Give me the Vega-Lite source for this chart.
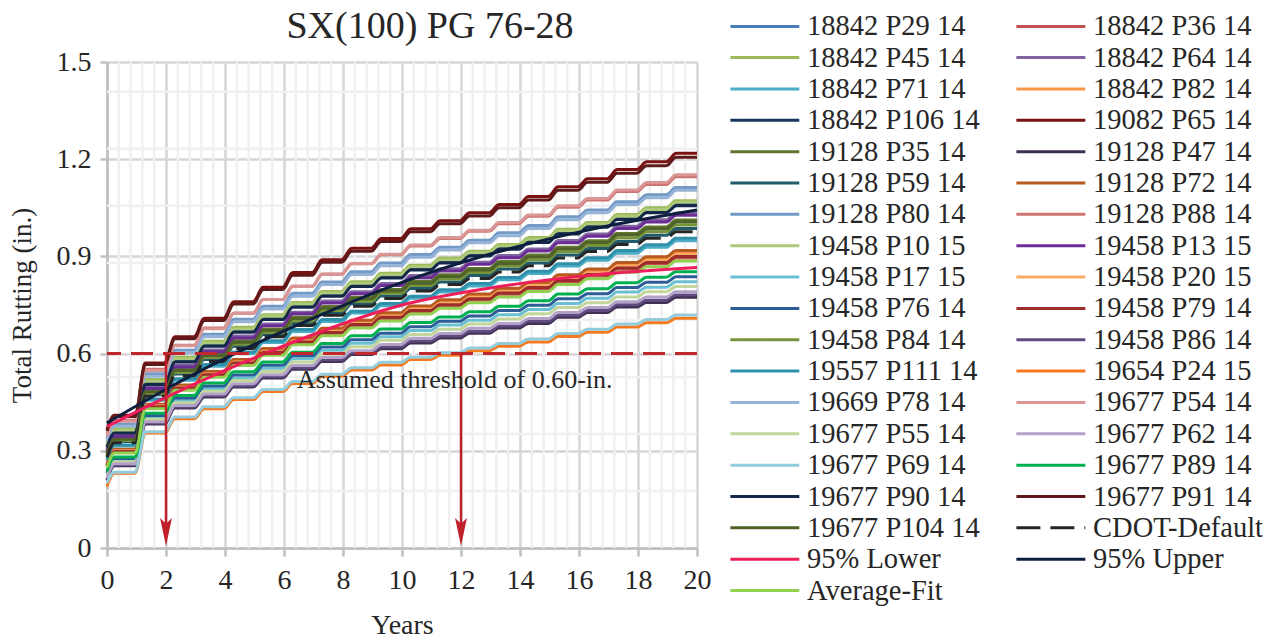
{
"$schema":"https://vega.github.io/schema/vega-lite/v6.json",
"width":590,"height":486,
"autosize":{"type":"none"},
"padding":{"left":107,"top":62,"right":591,"bottom":92},
"background":"white",
"config":{"view":{"stroke":null}},
"datasets":{
"names":[{"k":"a","name":"19082 P65 14"},{"k":"b","name":"19677 P91 14"},{"k":"c","name":"19128 P88 14"},{"k":"d","name":"19677 P54 14"},{"k":"e","name":"19128 P80 14"},{"k":"f","name":"19669 P78 14"},{"k":"g","name":"18842 P45 14"},{"k":"h","name":"19458 P10 15"},{"k":"i","name":"18842 P106 14"},{"k":"j","name":"19677 P90 14"},{"k":"k","name":"18842 P64 14"},{"k":"l","name":"19458 P13 15"},{"k":"m","name":"19128 P35 14"},{"k":"n","name":"19677 P104 14"},{"k":"o","name":"19458 P84 14"},{"k":"p","name":"19128 P59 14"},{"k":"q","name":"CDOT-Default"},{"k":"r","name":"19557 P111 14"},{"k":"s","name":"18842 P71 14"},{"k":"t","name":"19128 P72 14"},{"k":"u","name":"18842 P82 14"},{"k":"v","name":"19458 P20 15"},{"k":"w","name":"18842 P29 14"},{"k":"x","name":"19458 P79 14"},{"k":"y","name":"18842 P36 14"},{"k":"z","name":"Average-Fit"},{"k":"A","name":"19677 P89 14"},{"k":"B","name":"19458 P76 14"},{"k":"C","name":"19458 P17 15"},{"k":"D","name":"19677 P55 14"},{"k":"E","name":"19677 P62 14"},{"k":"F","name":"19128 P47 14"},{"k":"G","name":"19458 P86 14"},{"k":"H","name":"19677 P69 14"},{"k":"I","name":"19654 P24 15"}],
"steps":[
{"yr":0,"a":0.365,"b":0.361,"c":0.349,"d":0.346,"e":0.338,"f":0.331,"g":0.323,"h":0.318,"i":0.316,"j":0.31,"k":0.304,"l":0.299,"m":0.294,"n":0.291,"o":0.287,"p":0.284,"q":0.28,"r":0.273,"s":0.27,"t":0.26,"u":0.257,"v":0.255,"w":0.256,"x":0.253,"y":0.251,"z":0.248,"A":0.236,"B":0.231,"C":0.226,"D":0.221,"E":0.215,"F":0.209,"G":0.212,"H":0.2,"I":0.19},
{"yr":0.25,"a":0.41,"b":0.406,"c":0.394,"d":0.391,"e":0.383,"f":0.376,"g":0.368,"h":0.363,"i":0.361,"j":0.355,"k":0.349,"l":0.344,"m":0.339,"n":0.336,"o":0.332,"p":0.329,"q":0.325,"r":0.318,"s":0.315,"t":0.305,"u":0.302,"v":0.3,"w":0.301,"x":0.298,"y":0.296,"z":0.293,"A":0.281,"B":0.276,"C":0.271,"D":0.266,"E":0.26,"F":0.254,"G":0.257,"H":0.234,"I":0.231},
{"yr":0.95,"a":0.41,"b":0.406,"c":0.394,"d":0.391,"e":0.383,"f":0.376,"g":0.368,"h":0.363,"i":0.361,"j":0.355,"k":0.349,"l":0.344,"m":0.339,"n":0.336,"o":0.332,"p":0.329,"q":0.325,"r":0.318,"s":0.315,"t":0.305,"u":0.302,"v":0.3,"w":0.301,"x":0.298,"y":0.296,"z":0.293,"A":0.281,"B":0.276,"C":0.271,"D":0.266,"E":0.26,"F":0.254,"G":0.257,"H":0.234,"I":0.231},
{"yr":1.3,"a":0.571,"b":0.566,"c":0.552,"d":0.548,"e":0.538,"f":0.53,"g":0.52,"h":0.515,"i":0.512,"j":0.505,"k":0.497,"l":0.492,"m":0.486,"n":0.482,"o":0.477,"p":0.473,"q":0.468,"r":0.46,"s":0.456,"t":0.444,"u":0.441,"v":0.438,"w":0.439,"x":0.436,"y":0.434,"z":0.43,"A":0.416,"B":0.409,"C":0.403,"D":0.397,"E":0.39,"F":0.383,"G":0.386,"H":0.359,"I":0.355},
{"yr":1.95,"a":0.571,"b":0.566,"c":0.552,"d":0.548,"e":0.538,"f":0.53,"g":0.52,"h":0.515,"i":0.512,"j":0.505,"k":0.497,"l":0.492,"m":0.486,"n":0.482,"o":0.477,"p":0.473,"q":0.468,"r":0.46,"s":0.456,"t":0.444,"u":0.441,"v":0.438,"w":0.439,"x":0.436,"y":0.434,"z":0.43,"A":0.416,"B":0.409,"C":0.403,"D":0.397,"E":0.39,"F":0.383,"G":0.386,"H":0.359,"I":0.355},
{"yr":2.3,"a":0.652,"b":0.646,"c":0.626,"d":0.624,"e":0.61,"f":0.602,"g":0.589,"h":0.584,"i":0.581,"j":0.574,"k":0.564,"l":0.559,"m":0.552,"n":0.548,"o":0.542,"p":0.537,"q":0.532,"r":0.522,"s":0.518,"t":0.503,"u":0.5,"v":0.496,"w":0.497,"x":0.494,"y":0.492,"z":0.487,"A":0.471,"B":0.463,"C":0.455,"D":0.448,"E":0.44,"F":0.432,"G":0.435,"H":0.404,"I":0.399},
{"yr":2.95,"a":0.652,"b":0.646,"c":0.626,"d":0.624,"e":0.61,"f":0.602,"g":0.589,"h":0.584,"i":0.581,"j":0.574,"k":0.564,"l":0.559,"m":0.552,"n":0.548,"o":0.542,"p":0.537,"q":0.532,"r":0.522,"s":0.518,"t":0.503,"u":0.5,"v":0.496,"w":0.497,"x":0.494,"y":0.492,"z":0.487,"A":0.471,"B":0.463,"C":0.455,"D":0.448,"E":0.44,"F":0.432,"G":0.435,"H":0.404,"I":0.399},
{"yr":3.3,"a":0.709,"b":0.702,"c":0.679,"d":0.677,"e":0.66,"f":0.652,"g":0.638,"h":0.633,"i":0.629,"j":0.623,"k":0.611,"l":0.606,"m":0.598,"n":0.594,"o":0.588,"p":0.582,"q":0.576,"r":0.566,"s":0.561,"t":0.545,"u":0.541,"v":0.537,"w":0.538,"x":0.535,"y":0.532,"z":0.527,"A":0.509,"B":0.5,"C":0.492,"D":0.484,"E":0.475,"F":0.466,"G":0.47,"H":0.436,"I":0.43},
{"yr":3.95,"a":0.709,"b":0.702,"c":0.679,"d":0.677,"e":0.66,"f":0.652,"g":0.638,"h":0.633,"i":0.629,"j":0.623,"k":0.611,"l":0.606,"m":0.598,"n":0.594,"o":0.588,"p":0.582,"q":0.576,"r":0.566,"s":0.561,"t":0.545,"u":0.541,"v":0.537,"w":0.538,"x":0.535,"y":0.532,"z":0.527,"A":0.509,"B":0.5,"C":0.492,"D":0.484,"E":0.475,"F":0.466,"G":0.47,"H":0.436,"I":0.43},
{"yr":4.3,"a":0.76,"b":0.753,"c":0.725,"d":0.724,"e":0.706,"f":0.698,"g":0.681,"h":0.676,"i":0.673,"j":0.666,"k":0.654,"l":0.648,"m":0.64,"n":0.635,"o":0.629,"p":0.623,"q":0.616,"r":0.605,"s":0.6,"t":0.582,"u":0.579,"v":0.574,"w":0.575,"x":0.571,"y":0.569,"z":0.563,"A":0.544,"B":0.534,"C":0.525,"D":0.517,"E":0.507,"F":0.497,"G":0.501,"H":0.464,"I":0.458},
{"yr":4.95,"a":0.76,"b":0.753,"c":0.725,"d":0.724,"e":0.706,"f":0.698,"g":0.681,"h":0.676,"i":0.673,"j":0.666,"k":0.654,"l":0.648,"m":0.64,"n":0.635,"o":0.629,"p":0.623,"q":0.616,"r":0.605,"s":0.6,"t":0.582,"u":0.579,"v":0.574,"w":0.575,"x":0.571,"y":0.569,"z":0.563,"A":0.544,"B":0.534,"C":0.525,"D":0.517,"E":0.507,"F":0.497,"G":0.501,"H":0.464,"I":0.458},
{"yr":5.3,"a":0.805,"b":0.798,"c":0.767,"d":0.767,"e":0.746,"f":0.738,"g":0.72,"h":0.715,"i":0.711,"j":0.705,"k":0.691,"l":0.686,"m":0.676,"n":0.672,"o":0.665,"p":0.659,"q":0.652,"r":0.64,"s":0.634,"t":0.616,"u":0.612,"v":0.607,"w":0.608,"x":0.604,"y":0.601,"z":0.595,"A":0.574,"B":0.564,"C":0.555,"D":0.545,"E":0.535,"F":0.525,"G":0.529,"H":0.489,"I":0.483},
{"yr":5.95,"a":0.805,"b":0.798,"c":0.767,"d":0.767,"e":0.746,"f":0.738,"g":0.72,"h":0.715,"i":0.711,"j":0.705,"k":0.691,"l":0.686,"m":0.676,"n":0.672,"o":0.665,"p":0.659,"q":0.652,"r":0.64,"s":0.634,"t":0.616,"u":0.612,"v":0.607,"w":0.608,"x":0.604,"y":0.601,"z":0.595,"A":0.574,"B":0.564,"C":0.555,"D":0.545,"E":0.535,"F":0.525,"G":0.529,"H":0.489,"I":0.483},
{"yr":6.3,"a":0.85,"b":0.842,"c":0.808,"d":0.808,"e":0.786,"f":0.777,"g":0.758,"h":0.753,"i":0.749,"j":0.743,"k":0.728,"l":0.723,"m":0.713,"n":0.708,"o":0.701,"p":0.694,"q":0.687,"r":0.674,"s":0.668,"t":0.648,"u":0.644,"v":0.639,"w":0.64,"x":0.636,"y":0.633,"z":0.627,"A":0.604,"B":0.593,"C":0.584,"D":0.574,"E":0.563,"F":0.552,"G":0.556,"H":0.514,"I":0.508},
{"yr":6.95,"a":0.85,"b":0.842,"c":0.808,"d":0.808,"e":0.786,"f":0.777,"g":0.758,"h":0.753,"i":0.749,"j":0.743,"k":0.728,"l":0.723,"m":0.713,"n":0.708,"o":0.701,"p":0.694,"q":0.687,"r":0.674,"s":0.668,"t":0.648,"u":0.644,"v":0.639,"w":0.64,"x":0.636,"y":0.633,"z":0.627,"A":0.604,"B":0.593,"C":0.584,"D":0.574,"E":0.563,"F":0.552,"G":0.556,"H":0.514,"I":0.508},
{"yr":7.3,"a":0.89,"b":0.882,"c":0.845,"d":0.846,"e":0.821,"f":0.813,"g":0.792,"h":0.787,"i":0.783,"j":0.777,"k":0.762,"l":0.756,"m":0.745,"n":0.74,"o":0.733,"p":0.726,"q":0.718,"r":0.705,"s":0.699,"t":0.678,"u":0.673,"v":0.668,"w":0.669,"x":0.665,"y":0.661,"z":0.655,"A":0.631,"B":0.62,"C":0.61,"D":0.599,"E":0.588,"F":0.576,"G":0.581,"H":0.536,"I":0.53},
{"yr":7.95,"a":0.89,"b":0.882,"c":0.845,"d":0.846,"e":0.821,"f":0.813,"g":0.792,"h":0.787,"i":0.783,"j":0.777,"k":0.762,"l":0.756,"m":0.745,"n":0.74,"o":0.733,"p":0.726,"q":0.718,"r":0.705,"s":0.699,"t":0.678,"u":0.673,"v":0.668,"w":0.669,"x":0.665,"y":0.661,"z":0.655,"A":0.631,"B":0.62,"C":0.61,"D":0.599,"E":0.588,"F":0.576,"G":0.581,"H":0.536,"I":0.53},
{"yr":8.3,"a":0.925,"b":0.916,"c":0.877,"d":0.878,"e":0.853,"f":0.844,"g":0.822,"h":0.817,"i":0.813,"j":0.807,"k":0.791,"l":0.785,"m":0.774,"n":0.769,"o":0.761,"p":0.754,"q":0.746,"r":0.731,"s":0.725,"t":0.703,"u":0.699,"v":0.693,"w":0.694,"x":0.69,"y":0.686,"z":0.679,"A":0.655,"B":0.643,"C":0.632,"D":0.621,"E":0.609,"F":0.597,"G":0.602,"H":0.556,"I":0.549},
{"yr":8.95,"a":0.925,"b":0.916,"c":0.877,"d":0.878,"e":0.853,"f":0.844,"g":0.822,"h":0.817,"i":0.813,"j":0.807,"k":0.791,"l":0.785,"m":0.774,"n":0.769,"o":0.761,"p":0.754,"q":0.746,"r":0.731,"s":0.725,"t":0.703,"u":0.699,"v":0.693,"w":0.694,"x":0.69,"y":0.686,"z":0.679,"A":0.655,"B":0.643,"C":0.632,"D":0.621,"E":0.609,"F":0.597,"G":0.602,"H":0.556,"I":0.549},
{"yr":9.3,"a":0.955,"b":0.946,"c":0.905,"d":0.907,"e":0.88,"f":0.871,"g":0.848,"h":0.843,"i":0.839,"j":0.833,"k":0.816,"l":0.81,"m":0.798,"n":0.793,"o":0.786,"p":0.778,"q":0.77,"r":0.755,"s":0.748,"t":0.726,"u":0.721,"v":0.715,"w":0.716,"x":0.712,"y":0.708,"z":0.701,"A":0.676,"B":0.663,"C":0.652,"D":0.641,"E":0.628,"F":0.615,"G":0.621,"H":0.573,"I":0.565},
{"yr":9.95,"a":0.955,"b":0.946,"c":0.905,"d":0.907,"e":0.88,"f":0.871,"g":0.848,"h":0.843,"i":0.839,"j":0.833,"k":0.816,"l":0.81,"m":0.798,"n":0.793,"o":0.786,"p":0.778,"q":0.77,"r":0.755,"s":0.748,"t":0.726,"u":0.721,"v":0.715,"w":0.716,"x":0.712,"y":0.708,"z":0.701,"A":0.676,"B":0.663,"C":0.652,"D":0.641,"E":0.628,"F":0.615,"G":0.621,"H":0.573,"I":0.565},
{"yr":10.3,"a":0.985,"b":0.976,"c":0.932,"d":0.935,"e":0.906,"f":0.897,"g":0.873,"h":0.868,"i":0.864,"j":0.858,"k":0.841,"l":0.834,"m":0.823,"n":0.817,"o":0.81,"p":0.801,"q":0.793,"r":0.777,"s":0.771,"t":0.747,"u":0.742,"v":0.737,"w":0.738,"x":0.733,"y":0.729,"z":0.722,"A":0.696,"B":0.683,"C":0.671,"D":0.659,"E":0.647,"F":0.633,"G":0.639,"H":0.589,"I":0.582},
{"yr":10.95,"a":0.985,"b":0.976,"c":0.932,"d":0.935,"e":0.906,"f":0.897,"g":0.873,"h":0.868,"i":0.864,"j":0.858,"k":0.841,"l":0.834,"m":0.823,"n":0.817,"o":0.81,"p":0.801,"q":0.793,"r":0.777,"s":0.771,"t":0.747,"u":0.742,"v":0.737,"w":0.738,"x":0.733,"y":0.729,"z":0.722,"A":0.696,"B":0.683,"C":0.671,"D":0.659,"E":0.647,"F":0.633,"G":0.639,"H":0.589,"I":0.582},
{"yr":11.3,"a":1.01,"b":1.001,"c":0.955,"d":0.958,"e":0.928,"f":0.92,"g":0.895,"h":0.89,"i":0.885,"j":0.88,"k":0.862,"l":0.855,"m":0.843,"n":0.838,"o":0.83,"p":0.821,"q":0.813,"r":0.797,"s":0.79,"t":0.766,"u":0.761,"v":0.755,"w":0.756,"x":0.751,"y":0.747,"z":0.74,"A":0.713,"B":0.7,"C":0.688,"D":0.675,"E":0.662,"F":0.648,"G":0.654,"H":0.603,"I":0.595},
{"yr":11.95,"a":1.01,"b":1.001,"c":0.955,"d":0.958,"e":0.928,"f":0.92,"g":0.895,"h":0.89,"i":0.885,"j":0.88,"k":0.862,"l":0.855,"m":0.843,"n":0.838,"o":0.83,"p":0.821,"q":0.813,"r":0.797,"s":0.79,"t":0.766,"u":0.761,"v":0.755,"w":0.756,"x":0.751,"y":0.747,"z":0.74,"A":0.713,"B":0.7,"C":0.688,"D":0.675,"E":0.662,"F":0.648,"G":0.654,"H":0.603,"I":0.595},
{"yr":12.3,"a":1.035,"b":1.025,"c":0.978,"d":0.981,"e":0.95,"f":0.942,"g":0.916,"h":0.911,"i":0.906,"j":0.901,"k":0.882,"l":0.876,"m":0.863,"n":0.858,"o":0.85,"p":0.841,"q":0.832,"r":0.816,"s":0.809,"t":0.784,"u":0.779,"v":0.773,"w":0.774,"x":0.769,"y":0.765,"z":0.757,"A":0.729,"B":0.716,"C":0.703,"D":0.691,"E":0.678,"F":0.663,"G":0.669,"H":0.617,"I":0.609},
{"yr":12.95,"a":1.035,"b":1.025,"c":0.978,"d":0.981,"e":0.95,"f":0.942,"g":0.916,"h":0.911,"i":0.906,"j":0.901,"k":0.882,"l":0.876,"m":0.863,"n":0.858,"o":0.85,"p":0.841,"q":0.832,"r":0.816,"s":0.809,"t":0.784,"u":0.779,"v":0.773,"w":0.774,"x":0.769,"y":0.765,"z":0.757,"A":0.729,"B":0.716,"C":0.703,"D":0.691,"E":0.678,"F":0.663,"G":0.669,"H":0.617,"I":0.609},
{"yr":13.3,"a":1.06,"b":1.05,"c":1.001,"d":1.005,"e":0.973,"f":0.964,"g":0.937,"h":0.932,"i":0.928,"j":0.922,"k":0.903,"l":0.896,"m":0.884,"n":0.878,"o":0.87,"p":0.861,"q":0.852,"r":0.835,"s":0.828,"t":0.802,"u":0.797,"v":0.791,"w":0.792,"x":0.787,"y":0.783,"z":0.775,"A":0.746,"B":0.733,"C":0.72,"D":0.707,"E":0.693,"F":0.679,"G":0.685,"H":0.631,"I":0.623},
{"yr":13.95,"a":1.06,"b":1.05,"c":1.001,"d":1.005,"e":0.973,"f":0.964,"g":0.937,"h":0.932,"i":0.928,"j":0.922,"k":0.903,"l":0.896,"m":0.884,"n":0.878,"o":0.87,"p":0.861,"q":0.852,"r":0.835,"s":0.828,"t":0.802,"u":0.797,"v":0.791,"w":0.792,"x":0.787,"y":0.783,"z":0.775,"A":0.746,"B":0.733,"C":0.72,"D":0.707,"E":0.693,"F":0.679,"G":0.685,"H":0.631,"I":0.623},
{"yr":14.3,"a":1.085,"b":1.074,"c":1.024,"d":1.028,"e":0.995,"f":0.986,"g":0.958,"h":0.953,"i":0.949,"j":0.943,"k":0.923,"l":0.917,"m":0.904,"n":0.898,"o":0.89,"p":0.88,"q":0.871,"r":0.854,"s":0.847,"t":0.82,"u":0.815,"v":0.809,"w":0.81,"x":0.804,"y":0.8,"z":0.792,"A":0.763,"B":0.749,"C":0.736,"D":0.723,"E":0.708,"F":0.693,"G":0.7,"H":0.645,"I":0.636},
{"yr":14.95,"a":1.085,"b":1.074,"c":1.024,"d":1.028,"e":0.995,"f":0.986,"g":0.958,"h":0.953,"i":0.949,"j":0.943,"k":0.923,"l":0.917,"m":0.904,"n":0.898,"o":0.89,"p":0.88,"q":0.871,"r":0.854,"s":0.847,"t":0.82,"u":0.815,"v":0.809,"w":0.81,"x":0.804,"y":0.8,"z":0.792,"A":0.763,"B":0.749,"C":0.736,"D":0.723,"E":0.708,"F":0.693,"G":0.7,"H":0.645,"I":0.636},
{"yr":15.3,"a":1.115,"b":1.104,"c":1.052,"d":1.056,"e":1.022,"f":1.013,"g":0.984,"h":0.979,"i":0.975,"j":0.969,"k":0.949,"l":0.942,"m":0.928,"n":0.923,"o":0.914,"p":0.904,"q":0.895,"r":0.877,"s":0.87,"t":0.843,"u":0.837,"v":0.831,"w":0.832,"x":0.826,"y":0.822,"z":0.813,"A":0.784,"B":0.769,"C":0.755,"D":0.742,"E":0.727,"F":0.712,"G":0.718,"H":0.662,"I":0.653},
{"yr":15.95,"a":1.115,"b":1.104,"c":1.052,"d":1.056,"e":1.022,"f":1.013,"g":0.984,"h":0.979,"i":0.975,"j":0.969,"k":0.949,"l":0.942,"m":0.928,"n":0.923,"o":0.914,"p":0.904,"q":0.895,"r":0.877,"s":0.87,"t":0.843,"u":0.837,"v":0.831,"w":0.832,"x":0.826,"y":0.822,"z":0.813,"A":0.784,"B":0.769,"C":0.755,"D":0.742,"E":0.727,"F":0.712,"G":0.718,"H":0.662,"I":0.653},
{"yr":16.3,"a":1.14,"b":1.129,"c":1.074,"d":1.079,"e":1.043,"f":1.035,"g":1.005,"h":1.0,"i":0.995,"j":0.99,"k":0.969,"l":0.962,"m":0.948,"n":0.943,"o":0.934,"p":0.924,"q":0.915,"r":0.896,"s":0.888,"t":0.861,"u":0.855,"v":0.848,"w":0.849,"x":0.844,"y":0.839,"z":0.831,"A":0.8,"B":0.785,"C":0.771,"D":0.757,"E":0.742,"F":0.727,"G":0.733,"H":0.675,"I":0.666},
{"yr":16.95,"a":1.14,"b":1.129,"c":1.074,"d":1.079,"e":1.043,"f":1.035,"g":1.005,"h":1.0,"i":0.995,"j":0.99,"k":0.969,"l":0.962,"m":0.948,"n":0.943,"o":0.934,"p":0.924,"q":0.915,"r":0.896,"s":0.888,"t":0.861,"u":0.855,"v":0.848,"w":0.849,"x":0.844,"y":0.839,"z":0.831,"A":0.8,"B":0.785,"C":0.771,"D":0.757,"E":0.742,"F":0.727,"G":0.733,"H":0.675,"I":0.666},
{"yr":17.3,"a":1.168,"b":1.157,"c":1.1,"d":1.105,"e":1.069,"f":1.06,"g":1.029,"h":1.024,"i":1.02,"j":1.014,"k":0.993,"l":0.986,"m":0.971,"n":0.966,"o":0.957,"p":0.946,"q":0.937,"r":0.918,"s":0.91,"t":0.881,"u":0.876,"v":0.869,"w":0.87,"x":0.864,"y":0.86,"z":0.851,"A":0.819,"B":0.804,"C":0.79,"D":0.775,"E":0.76,"F":0.744,"G":0.751,"H":0.691,"I":0.682},
{"yr":17.95,"a":1.168,"b":1.157,"c":1.1,"d":1.105,"e":1.069,"f":1.06,"g":1.029,"h":1.024,"i":1.02,"j":1.014,"k":0.993,"l":0.986,"m":0.971,"n":0.966,"o":0.957,"p":0.946,"q":0.937,"r":0.918,"s":0.91,"t":0.881,"u":0.876,"v":0.869,"w":0.87,"x":0.864,"y":0.86,"z":0.851,"A":0.819,"B":0.804,"C":0.79,"D":0.775,"E":0.76,"F":0.744,"G":0.751,"H":0.691,"I":0.682},
{"yr":18.3,"a":1.192,"b":1.18,"c":1.122,"d":1.128,"e":1.09,"f":1.081,"g":1.05,"h":1.045,"i":1.04,"j":1.035,"k":1.013,"l":1.006,"m":0.991,"n":0.985,"o":0.976,"p":0.965,"q":0.956,"r":0.936,"s":0.928,"t":0.899,"u":0.893,"v":0.886,"w":0.888,"x":0.881,"y":0.877,"z":0.868,"A":0.836,"B":0.82,"C":0.805,"D":0.791,"E":0.775,"F":0.758,"G":0.765,"H":0.705,"I":0.695},
{"yr":18.95,"a":1.192,"b":1.18,"c":1.122,"d":1.128,"e":1.09,"f":1.081,"g":1.05,"h":1.045,"i":1.04,"j":1.035,"k":1.013,"l":1.006,"m":0.991,"n":0.985,"o":0.976,"p":0.965,"q":0.956,"r":0.936,"s":0.928,"t":0.899,"u":0.893,"v":0.886,"w":0.888,"x":0.881,"y":0.877,"z":0.868,"A":0.836,"B":0.82,"C":0.805,"D":0.791,"E":0.775,"F":0.758,"G":0.765,"H":0.705,"I":0.695},
{"yr":19.3,"a":1.218,"b":1.206,"c":1.146,"d":1.152,"e":1.113,"f":1.104,"g":1.072,"h":1.067,"i":1.062,"j":1.056,"k":1.034,"l":1.027,"m":1.012,"n":1.006,"o":0.997,"p":0.986,"q":0.976,"r":0.956,"s":0.948,"t":0.918,"u":0.912,"v":0.905,"w":0.907,"x":0.9,"y":0.895,"z":0.886,"A":0.853,"B":0.837,"C":0.822,"D":0.807,"E":0.791,"F":0.774,"G":0.781,"H":0.719,"I":0.709},
{"yr":20,"a":1.218,"b":1.206,"c":1.146,"d":1.152,"e":1.113,"f":1.104,"g":1.072,"h":1.067,"i":1.062,"j":1.056,"k":1.034,"l":1.027,"m":1.012,"n":1.006,"o":0.997,"p":0.986,"q":0.976,"r":0.956,"s":0.948,"t":0.918,"u":0.912,"v":0.905,"w":0.907,"x":0.9,"y":0.895,"z":0.886,"A":0.853,"B":0.837,"C":0.822,"D":0.807,"E":0.791,"F":0.774,"G":0.781,"H":0.719,"I":0.709}
],
"bands":[
{"name":"95% Lower","yr":0,"v":0.375},{"name":"95% Lower","yr":2,"v":0.465},{"name":"95% Lower","yr":4,"v":0.548},{"name":"95% Lower","yr":6.5,"v":0.642},{"name":"95% Lower","yr":10,"v":0.75},{"name":"95% Lower","yr":13.3,"v":0.807},{"name":"95% Lower","yr":16.5,"v":0.843},{"name":"95% Lower","yr":20,"v":0.866},
{"name":"95% Upper","yr":0,"v":0.386},{"name":"95% Upper","yr":2,"v":0.49},{"name":"95% Upper","yr":4,"v":0.585},{"name":"95% Upper","yr":6.5,"v":0.69},{"name":"95% Upper","yr":10,"v":0.82},{"name":"95% Upper","yr":13.3,"v":0.915},{"name":"95% Upper","yr":16.5,"v":0.985},{"name":"95% Upper","yr":20,"v":1.043}
]
},
"layer":[
{"data":{"values":[0.4,0.8,1.2,1.6,2.4,2.8,3.2,3.6,4.4,4.8,5.2,5.6,6.4,6.8,7.2,7.6,8.4,8.8,9.2,9.6,10.4,10.8,11.2,11.6,12.4,12.8,13.2,13.6,14.4,14.8,15.2,15.6,16.4,16.8,17.2,17.6,18.4,18.8,19.2,19.6]},
 "mark":{"type":"rule","color":"#F0F0F0","strokeWidth":2.5},
 "encoding":{"x":{"field":"data","type":"quantitative","scale":{"domain":[0,20],"nice":false},
   "axis":{"title":"Years","values":[0,2,4,6,8,10,12,14,16,18,20],"grid":true,"gridColor":"#D6D6D6","gridWidth":2.5,"domainColor":"#BFBFBF","domainWidth":2.5,"tickColor":"#BFBFBF","tickWidth":2.5,"tickSize":8,"labelFont":"Liberation Serif","labelFontSize":28,"labelColor":"#262626","labelPadding":10,"labelFlush":false,"labelOverlap":false,"titleFont":"Liberation Serif","titleFontSize":28,"titleFontWeight":"normal","titleColor":"#262626","titlePadding":17}}}},
{"data":{"values":[0.176,0.352,0.528,0.704,0.88,1.056,1.232,1.408]},
 "mark":{"type":"rule","color":"#F0F0F0","strokeWidth":2.5},
 "encoding":{"y":{"field":"data","type":"quantitative","scale":{"domain":[0,1.5],"nice":false},
   "axis":{"title":"Total Rutting (in.)","values":[0,0.3,0.6,0.9,1.2,1.5],"labelExpr":"datum.value === 0 ? '0' : format(datum.value, '.1f')","grid":true,"gridColor":"#D6D6D6","gridWidth":2.5,"domainColor":"#BFBFBF","domainWidth":2.5,"tickColor":"#BFBFBF","tickWidth":2.5,"tickSize":7,"labelFont":"Liberation Serif","labelFontSize":28,"labelColor":"#262626","labelPadding":9,"labelFlush":false,"labelOverlap":false,"titleFont":"Liberation Serif","titleFontSize":27,"titleFontWeight":"normal","titleColor":"#262626","titlePadding":20}}}},
{"data":{"name":"steps"},
 "transform":[
  {"fold":["w","y","g","k","s","u","i","a","m","F","p","t","e","c","h","l","C","v","B","x","o","G","r","I","f","d","D","E","H","A","j","b","n","q","z"],"as":["k","v"]},
  {"lookup":"k","from":{"data":{"name":"names"},"key":"k","fields":["name"]}}
 ],
 "mark":{"type":"line","strokeWidth":3,"interpolate":"monotone"},
 "encoding":{
  "x":{"field":"yr","type":"quantitative","title":"Years"},
  "y":{"field":"v","type":"quantitative","title":"Total Rutting (in.)"},
  "color":{"field":"name","type":"nominal",
   "scale":{"domain":["18842 P29 14","18842 P45 14","18842 P71 14","18842 P106 14","19128 P35 14","19128 P59 14","19128 P80 14","19458 P10 15","19458 P17 15","19458 P76 14","19458 P84 14","19557 P111 14","19669 P78 14","19677 P55 14","19677 P69 14","19677 P90 14","19677 P104 14","95% Lower","Average-Fit","18842 P36 14","18842 P64 14","18842 P82 14","19082 P65 14","19128 P47 14","19128 P72 14","19128 P88 14","19458 P13 15","19458 P20 15","19458 P79 14","19458 P86 14","19654 P24 15","19677 P54 14","19677 P62 14","19677 P89 14","19677 P91 14","CDOT-Default","95% Upper"],
    "range":["#4A7EBB","#9BBB59","#4BACC6","#17375E","#5F7530","#215A69","#7399C6","#AFC97A","#6CC0D4","#2C5D98","#77933C","#2E90AA","#95B3D7","#C3D69B","#93CDDD","#14284B","#4F6228","#EE1E5B","#92D050","#C0504D","#8064A2","#F79646","#7A1111","#403152","#B65A1F","#CD7371","#6B2D95","#F9AA66","#9B2D2A","#5F4B80","#F4791F","#D99694","#B3A2C7","#00B050","#5E1A1A","#262626","#0E1E3E"]},
   "legend":{"title":null,"orient":"none","legendX":643.6,"legendY":-50,"direction":"vertical","columns":2,"symbolLimit":60,"symbolType":"M-5,0H5","symbolSize":190,"symbolStrokeWidth":3,"labelFont":"Liberation Serif","labelFontSize":28.5,"labelColor":"#262626","labelLimit":400,"labelOffset":28,"rowPadding":2.35,"columnPadding":29,"padding":0}},
  "strokeDash":{"field":"name","type":"nominal",
   "scale":{"domain":["18842 P29 14","18842 P45 14","18842 P71 14","18842 P106 14","19128 P35 14","19128 P59 14","19128 P80 14","19458 P10 15","19458 P17 15","19458 P76 14","19458 P84 14","19557 P111 14","19669 P78 14","19677 P55 14","19677 P69 14","19677 P90 14","19677 P104 14","95% Lower","Average-Fit","18842 P36 14","18842 P64 14","18842 P82 14","19082 P65 14","19128 P47 14","19128 P72 14","19128 P88 14","19458 P13 15","19458 P20 15","19458 P79 14","19458 P86 14","19654 P24 15","19677 P54 14","19677 P62 14","19677 P89 14","19677 P91 14","CDOT-Default","95% Upper"],
    "range":[[1,0],[1,0],[1,0],[1,0],[1,0],[1,0],[1,0],[1,0],[1,0],[1,0],[1,0],[1,0],[1,0],[1,0],[1,0],[1,0],[1,0],[1,0],[1,0],[1,0],[1,0],[1,0],[1,0],[1,0],[1,0],[1,0],[1,0],[1,0],[1,0],[1,0],[1,0],[1,0],[1,0],[1,0],[1,0],[24,10],[1,0]]},
   "legend":{"title":null,"orient":"none","legendX":643.6,"legendY":-50,"direction":"vertical","columns":2,"symbolLimit":60,"symbolType":"M-5,0H5","symbolSize":190,"symbolStrokeWidth":3,"labelFont":"Liberation Serif","labelFontSize":28.5,"labelColor":"#262626","labelLimit":400,"labelOffset":28,"rowPadding":2.35,"columnPadding":29,"padding":0}}
 }},
{"data":{"name":"bands"},
 "mark":{"type":"line","strokeWidth":3,"interpolate":"monotone"},
 "encoding":{
  "x":{"field":"yr","type":"quantitative","title":"Years"},
  "y":{"field":"v","type":"quantitative","title":"Total Rutting (in.)"},
  "color":{"field":"name","type":"nominal","legend":{"title":null,"orient":"none","legendX":643.6,"legendY":-50,"direction":"vertical","columns":2,"symbolLimit":60,"symbolType":"M-5,0H5","symbolSize":190,"symbolStrokeWidth":3,"labelFont":"Liberation Serif","labelFontSize":28.5,"labelColor":"#262626","labelLimit":400,"labelOffset":28,"rowPadding":2.35,"columnPadding":29,"padding":0}}
 }},
{"data":{"values":[{"th":0.6}]},
 "mark":{"type":"rule","color":"#C0282D","strokeWidth":3,"strokeDash":[22,10]},
 "encoding":{"y":{"field":"th","type":"quantitative","title":"Total Rutting (in.)"}}},
{"data":{"values":[{"ay":2},{"ay":12}]},
 "mark":{"type":"rule","color":"#C0202A","strokeWidth":2.5},
 "encoding":{"x":{"field":"ay","type":"quantitative","title":"Years"},"y":{"datum":0.6,"title":"Total Rutting (in.)"},"y2":{"datum":0.05}}},
{"data":{"values":[{"ay":2},{"ay":12}]},
 "mark":{"type":"point","filled":true,"opacity":1,"color":"#C0202A","strokeWidth":0,"size":196,"shape":"M0,0L-0.85,-4L0,-3.2L0.85,-4Z"},
 "encoding":{"x":{"field":"ay","type":"quantitative","title":"Years"},"y":{"datum":0.006,"title":"Total Rutting (in.)"}}},
{"data":{"values":[{"label":"Assumed threshold of 0.60-in."}]},
 "mark":{"type":"text","font":"Liberation Serif","fontSize":26,"color":"#262626","align":"left","baseline":"alphabetic"},
 "encoding":{"text":{"field":"label"},"x":{"datum":6.44,"title":"Years"},"y":{"datum":0.494,"title":"Total Rutting (in.)"}}},
{"data":{"values":[{"label":"SX(100) PG 76-28"}]},
 "mark":{"type":"text","font":"Liberation Serif","fontSize":38,"color":"#262626","align":"center","baseline":"alphabetic"},
 "encoding":{"text":{"field":"label"},"x":{"datum":10.95,"title":"Years"},"y":{"datum":1.574,"title":"Total Rutting (in.)"}}}
]
}
